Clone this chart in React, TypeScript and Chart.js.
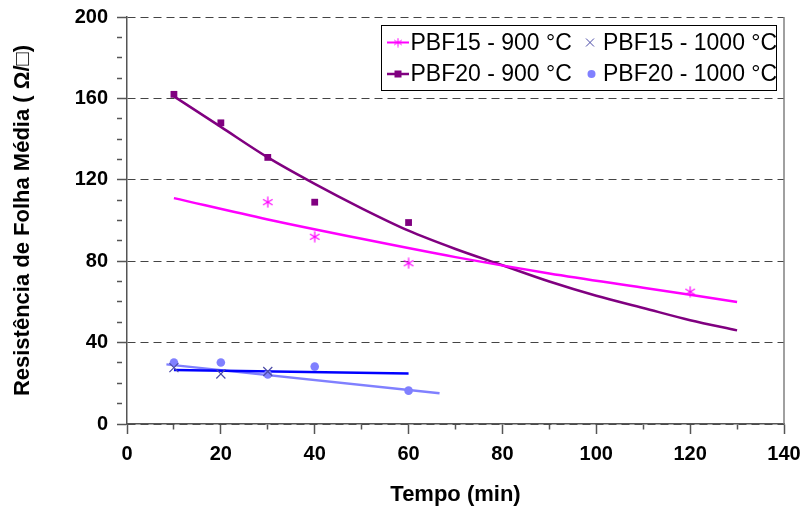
import React, { useEffect, useRef } from "react";
import { Chart, registerables } from "chart.js";

Chart.register(...registerables);

// ---- data ----
const seriesNames = ["PBF15 - 900 °C", "PBF15 - 1000 °C", "PBF20 - 900 °C", "PBF20 - 1000 °C"];

const pbf15_900_x = [30, 40, 60, 120];
const pbf15_900_y = [109, 92, 79, 65];
const pbf20_900_x = [10, 20, 30, 40, 60];
const pbf20_900_y = [162, 148, 131, 109, 99];
const pbf15_1000_x = [10, 20, 30];
const pbf15_1000_y = [27.7, 24.6, 25.8];
const pbf20_1000_x = [10, 20, 30, 40, 60];
const pbf20_1000_y = [30.2, 30.2, 24.3, 28.2, 16.4];

// trend lines
const trend15_900_x = [10, 30, 50, 70, 90, 110, 130];
const trend15_900_y = [111, 100.5, 91, 82, 74, 67, 60];
const trend20_900_x = [10, 20, 30, 40, 50, 60, 70, 80, 90, 100, 110, 120, 130];
const trend20_900_y = [161, 146, 131, 118, 106, 95, 86, 78, 70, 63, 57, 51, 46];
const trend15_1000_x = [10, 60];
const trend15_1000_y = [26.5, 24.8];
const trend20_1000_x = [8.4, 66.6];
const trend20_1000_y = [29.3, 15.1];

const xTitle = "Tempo (min)";
const yTitle = "Resistência de Folha Média ( Ω/□)";

const MAGENTA = "#FF00FF";
const PURPLE = "#800080";
const XBLUE = "#4B4BA8";
const BLUE = "#0000FF";
const LBLUE = "#8080FF";
const FONT = "'Liberation Sans', Arial, Helvetica, sans-serif";

function makeAsterisk(color: string, size: number, lw: number) {
  const c = document.createElement("canvas");
  c.width = size;
  c.height = size;
  const g = c.getContext("2d")!;
  g.strokeStyle = color;
  g.lineWidth = lw;
  const r = size / 2 - 0.5;
  const cx = size / 2;
  const cy = size / 2;
  for (const a of [90, 30, 150]) {
    const rad = (a * Math.PI) / 180;
    g.beginPath();
    g.moveTo(cx - r * Math.cos(rad), cy - r * Math.sin(rad));
    g.lineTo(cx + r * Math.cos(rad), cy + r * Math.sin(rad));
    g.stroke();
  }
  return c;
}

const pts = (xs: number[], ys: number[]) => xs.map((x, i) => ({ x, y: ys[i] }));

export default function App() {
  const ref = useRef<HTMLCanvasElement>(null);

  useEffect(() => {
    const canvas = ref.current!;
    const star = makeAsterisk(MAGENTA, 12, 1.2);
    const smallStar = makeAsterisk(MAGENTA, 10, 1);

    const framePlugin = {
      id: "frame",
      beforeDatasetsDraw(chart: any) {
        const { ctx, chartArea } = chart;
        ctx.save();
        ctx.strokeStyle = "#808080";
        ctx.lineWidth = 1.5;
        ctx.beginPath();
        ctx.moveTo(chartArea.right, chartArea.top);
        ctx.lineTo(chartArea.right, chartArea.bottom);
        ctx.stroke();
        ctx.restore();
      },
    };

    const legendPlugin = {
      id: "boxLegend",
      afterDraw(chart: any) {
        const { ctx, chartArea } = chart;
        const bx = chartArea.right - 403;
        const by = chartArea.top + 8;
        const bw = 395;
        const bh = 65;
        ctx.save();
        ctx.fillStyle = "#fff";
        ctx.fillRect(bx, by, bw, bh);
        ctx.strokeStyle = "#000";
        ctx.lineWidth = 1;
        ctx.strokeRect(bx + 0.5, by + 0.5, bw, bh);

        const row1 = by + 17.5;
        const row2 = by + 49;
        const c1 = bx + 6;
        const c2 = bx + 209;
        ctx.font = `23px ${FONT}`;
        ctx.fillStyle = "#000";
        ctx.textBaseline = "middle";
        ctx.textAlign = "left";

        // PBF15 - 900
        ctx.strokeStyle = MAGENTA;
        ctx.lineWidth = 2;
        ctx.beginPath();
        ctx.moveTo(c1, row1);
        ctx.lineTo(c1 + 22, row1);
        ctx.stroke();
        ctx.drawImage(smallStar, c1 + 11 - 5, row1 - 5);
        ctx.fillText(seriesNames[0], c1 + 23.5, row1 + 1);

        // PBF15 - 1000
        ctx.strokeStyle = XBLUE;
        ctx.lineWidth = 1;
        ctx.beginPath();
        ctx.moveTo(c2 - 4, row1 - 4);
        ctx.lineTo(c2 + 4, row1 + 4);
        ctx.moveTo(c2 - 4, row1 + 4);
        ctx.lineTo(c2 + 4, row1 - 4);
        ctx.stroke();
        ctx.fillText(seriesNames[1], c2 + 13, row1 + 1);

        // PBF20 - 900
        ctx.strokeStyle = PURPLE;
        ctx.lineWidth = 2.5;
        ctx.beginPath();
        ctx.moveTo(c1, row2);
        ctx.lineTo(c1 + 22, row2);
        ctx.stroke();
        ctx.fillStyle = PURPLE;
        ctx.fillRect(c1 + 11 - 3.5, row2 - 3.5, 7, 7);
        ctx.fillStyle = "#000";
        ctx.fillText(seriesNames[2], c1 + 23.5, row2 + 1);

        // PBF20 - 1000
        ctx.fillStyle = LBLUE;
        ctx.beginPath();
        ctx.arc(c2 + 1.5, row2, 4, 0, Math.PI * 2);
        ctx.fill();
        ctx.fillStyle = "#000";
        ctx.fillText(seriesNames[3], c2 + 13, row2 + 1);
        ctx.restore();
      },
    };

    const tickFont = { family: FONT, size: 20, weight: "bold" as const };
    const titleFont = { family: FONT, size: 22, weight: "bold" as const, lineHeight: 1 };

    const chart = new Chart(canvas, {
      type: "scatter",
      data: {
        datasets: [
          {
            label: seriesNames[0],
            data: pts(pbf15_900_x, pbf15_900_y),
            pointStyle: star as any,
            pointRadius: 6,
            borderColor: MAGENTA,
            backgroundColor: MAGENTA,
            showLine: false,
          },
          {
            label: seriesNames[2],
            data: pts(pbf20_900_x, pbf20_900_y),
            pointStyle: "rect",
            pointRadius: 4.8,
            borderWidth: 0,
            borderColor: PURPLE,
            backgroundColor: PURPLE,
            showLine: false,
          },
          {
            label: seriesNames[1],
            data: pts(pbf15_1000_x, pbf15_1000_y),
            pointStyle: "crossRot",
            pointRadius: 6.4,
            borderWidth: 1.2,
            borderColor: XBLUE,
            backgroundColor: XBLUE,
            showLine: false,
          },
          {
            label: seriesNames[3],
            data: pts(pbf20_1000_x, pbf20_1000_y),
            pointStyle: "circle",
            pointRadius: 4.3,
            borderWidth: 0,
            borderColor: LBLUE,
            backgroundColor: LBLUE,
            showLine: false,
          },
          {
            label: "trend PBF15 900",
            data: pts(trend15_900_x, trend15_900_y),
            showLine: true,
            pointRadius: 0,
            borderColor: MAGENTA,
            borderWidth: 2.5,
            cubicInterpolationMode: "monotone",
          },
          {
            label: "trend PBF20 900",
            data: pts(trend20_900_x, trend20_900_y),
            showLine: true,
            pointRadius: 0,
            borderColor: PURPLE,
            borderWidth: 2.5,
            cubicInterpolationMode: "monotone",
          },
          {
            label: "trend PBF15 1000",
            data: pts(trend15_1000_x, trend15_1000_y),
            showLine: true,
            pointRadius: 0,
            borderColor: BLUE,
            borderWidth: 2.5,
          },
          {
            label: "trend PBF20 1000",
            data: pts(trend20_1000_x, trend20_1000_y),
            showLine: true,
            pointRadius: 0,
            borderColor: LBLUE,
            borderWidth: 2.5,
          },
        ] as any,
      },
      options: {
        animation: false,
        responsive: false,
        events: [],
        layout: { padding: { left: 0, top: 17, right: 21, bottom: 0 } },
        plugins: {
          legend: { display: false },
          tooltip: { enabled: false },
        },
        scales: {
          x: {
            type: "linear",
            min: 0,
            max: 140,
            afterFit: (s: any) => {
              s.height = 82;
              s.paddingLeft = 0;
              s.paddingRight = 0;
              s.paddingTop = 0;
              s.paddingBottom = 0;
            },
            ticks: {
              stepSize: 10,
              autoSkip: false,
              maxRotation: 0,
              padding: 8,
              color: "#000",
              font: tickFont,
              callback: (v: any) => (Number(v) % 20 === 0 ? String(v) : ""),
            },
            grid: {
              drawOnChartArea: false,
              tickLength: 10,
              tickColor: "#555",
              tickWidth: 1.5,
              tickBorderDash: (ctx: any) =>
                ctx.tick && Number(ctx.tick.value) % 20 !== 0 ? [5, 50] : [],
            },
            border: { display: true, color: "#555", width: 1.5 },
            title: {
              display: true,
              text: xTitle,
              color: "#000",
              font: titleFont,
              padding: { top: 0, bottom: 0 },
            },
          },
          y: {
            type: "linear",
            min: 0,
            max: 200,
            afterFit: (s: any) => {
              s.width = 127;
              s.paddingLeft = 0;
              s.paddingRight = 0;
              s.paddingTop = 0;
              s.paddingBottom = 0;
            },
            ticks: {
              stepSize: 10,
              autoSkip: false,
              padding: 9,
              color: "#000",
              font: tickFont,
              callback: (v: any) => (Number(v) % 40 === 0 ? String(v) : ""),
            },
            grid: {
              color: (ctx: any) =>
                ctx.tick && Number(ctx.tick.value) % 40 === 0 ? "#444" : "rgba(0,0,0,0)",
              lineWidth: 1,
              tickLength: 10,
              tickColor: "#555",
              tickWidth: 1.5,
              tickBorderDash: (ctx: any) =>
                ctx.tick && Number(ctx.tick.value) % 40 !== 0 ? [5, 50] : [],
            },
            border: { display: true, color: "#555", width: 1.5, dash: [8, 5] },
            title: {
              display: true,
              text: yTitle,
              color: "#000",
              font: titleFont,
              padding: { top: 12, bottom: 0 },
            },
          },
        },
      } as any,
      plugins: [framePlugin, legendPlugin],
    });
    return () => chart.destroy();
  }, []);

  return (
    <div
      style={{
        position: "fixed",
        left: 0,
        top: 0,
        width: 805,
        height: 506,
        background: "#fff",
      }}
    >
      <canvas ref={ref} width={805} height={506} style={{ width: 805, height: 506, display: "block" }} />
    </div>
  );
}
